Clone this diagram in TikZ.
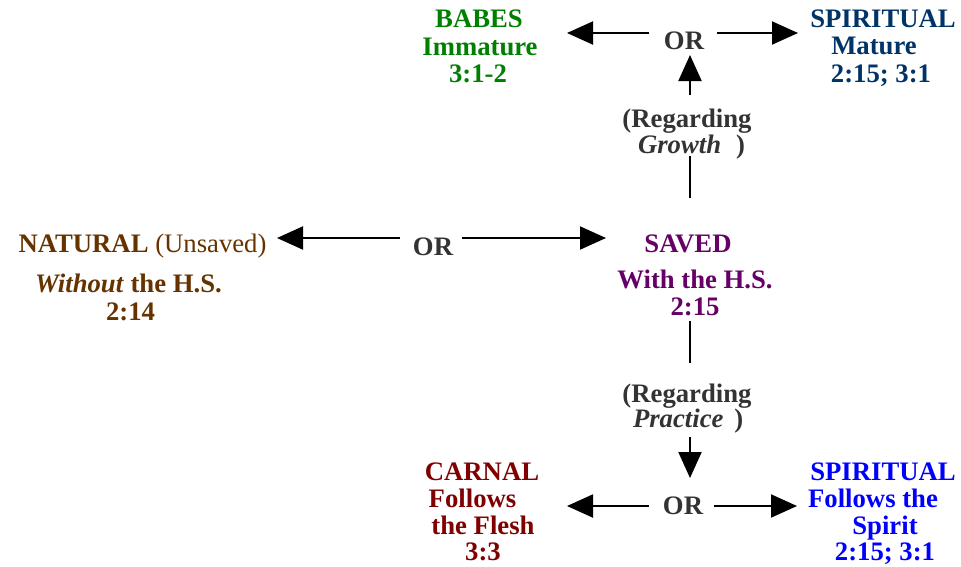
\documentclass[tikz,border=0pt]{standalone}
\usepackage{fontspec}
\setmainfont{Liberation Serif}
\usetikzlibrary{arrows.meta}
\definecolor{cgreen}{HTML}{008000}
\definecolor{cnavy}{HTML}{003366}
\definecolor{cbrown}{HTML}{663300}
\definecolor{cpurple}{HTML}{660066}
\definecolor{cdred}{HTML}{800000}
\definecolor{cblue}{HTML}{0000FF}
\definecolor{cgray}{HTML}{333333}
\tikzset{
  txt/.style={inner sep=0pt, outer sep=0pt, anchor=base, font=\fontsize{26.7}{28}\selectfont\bfseries},
  ortxt/.style={txt, text=cgray},
  arr/.style={line width=2pt, -{Triangle[length=26pt,width=23pt]}},
  ln/.style={line width=2pt},
}
\begin{document}
\begin{tikzpicture}[x=1pt,y=-1pt]
\useasboundingbox (0,0) rectangle (961,566);
% top row
\node[txt, text=cgreen] (babes1) at (479,27) {BABES};
\node[txt, text=cgreen] (babes2) at (480,55) {Immature};
\node[txt, text=cgreen] (babes3) at (478,82) {3:1-2};
\node[ortxt] (orTop) at (684,49) {OR};
\node[txt, text=cnavy] (spm1) at (883,27) {SPIRITUAL};
\node[txt, text=cnavy] (spm2) at (874,54) {Mature};
\node[txt, text=cnavy] (spm3) at (881,82) {2:15; 3:1};
\coordinate (tlA) at (649,33); \coordinate (tlB) at (567,33);
\coordinate (trA) at (717,33); \coordinate (trB) at (798,33);
\coordinate (upA) at (690,95); \coordinate (upB) at (690,55);
\draw[arr] (tlA) -- (tlB);
\draw[arr] (trA) -- (trB);
\draw[arr] (upA) -- (upB);
\node[ortxt] (regG1) at (687,127) {(Regarding};
\node[ortxt, anchor=base west] (regG2) at (638,153) {\textit{Growth}\hspace{15pt})};
\coordinate (gA) at (690,156); \coordinate (gB) at (690,198);
\draw[ln] (gA) -- (gB);
% middle row
\node[txt, text=cbrown] (nat1) at (142.5,252) {NATURAL \mdseries(Unsaved)};
\node[txt, text=cbrown] (nat2) at (128.5,292) {\textit{Without} the H.S.};
\node[txt, text=cbrown] (nat3) at (130.5,320) {2:14};
\node[ortxt] (orMid) at (433,255) {OR};
\coordinate (mlA) at (400,238); \coordinate (mlB) at (277,238);
\coordinate (mrA) at (462,238); \coordinate (mrB) at (606,238);
\draw[arr] (mlA) -- (mlB);
\draw[arr] (mrA) -- (mrB);
\node[txt, text=cpurple] (sav1) at (688,252) {SAVED};
\node[txt, text=cpurple] (sav2) at (695,288) {With the H.S.};
\node[txt, text=cpurple] (sav3) at (695,315) {2:15};
\coordinate (pA) at (690,321); \coordinate (pB) at (690,363);
\draw[ln] (pA) -- (pB);
\node[ortxt] (regP1) at (687,402) {(Regarding};
\node[ortxt, anchor=base west] (regP2) at (633,427) {\textit{Practice}\hspace{11pt})};
\coordinate (dnA) at (690,437); \coordinate (dnB) at (690,478);
\draw[arr] (dnA) -- (dnB);
% bottom row
\node[txt, text=cdred] (carn1) at (482,480) {CARNAL};
\node[txt, text=cdred] (carn2) at (472.5,507) {Follows};
\node[txt, text=cdred] (carn3) at (483,534) {the Flesh};
\node[txt, text=cdred] (carn4) at (483,560) {3:3};
\node[ortxt] (orBot) at (683,514) {OR};
\coordinate (blA) at (649,506); \coordinate (blB) at (567,506);
\coordinate (brA) at (714,506); \coordinate (brB) at (797,506);
\draw[arr] (blA) -- (blB);
\draw[arr] (brA) -- (brB);
\node[txt, text=cblue] (spf1) at (883,480) {SPIRITUAL};
\node[txt, text=cblue] (spf2) at (873,507) {Follows the};
\node[txt, text=cblue] (spf3) at (885,534) {Spirit};
\node[txt, text=cblue] (spf4) at (885,560) {2:15; 3:1};
\end{tikzpicture}
\end{document}
